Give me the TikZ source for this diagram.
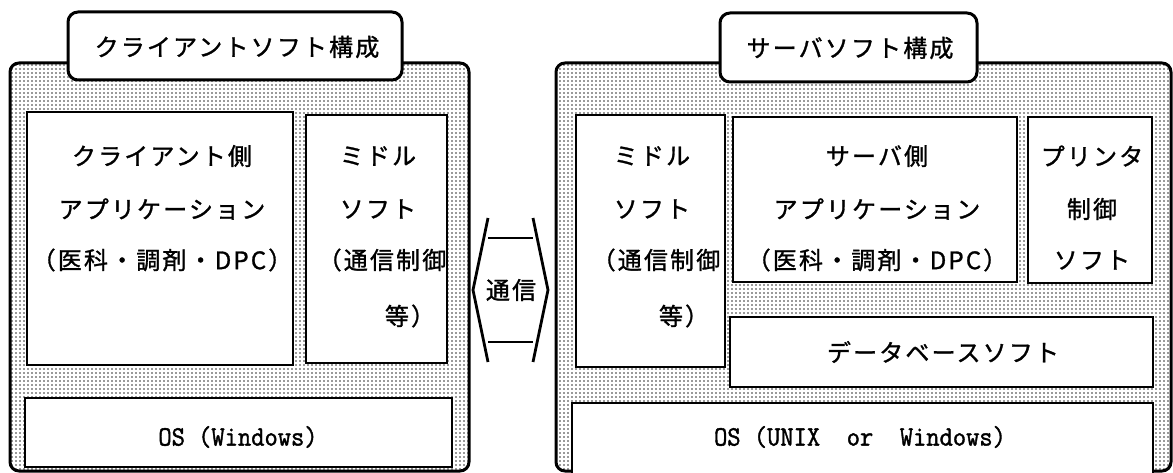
\documentclass[tikz,border=0pt]{standalone}
\usepackage{fontspec}
\newfontfamily\jpfont[LetterSpace=9,FakeBold=1.2]{Noto Sans CJK JP}
\newfontfamily\osfont[FakeBold=1.5]{Latin Modern Mono}
\usetikzlibrary{patterns}
\pgfdeclarepatternformonly{mydots}{\pgfpoint{-1.5pt}{-1.5pt}}{\pgfpoint{1.5pt}{1.5pt}}{\pgfpoint{4pt}{4pt}}{\pgfpathcircle{\pgfpointorigin}{0.95pt}\pgfusepath{fill}}
\begin{document}
\begin{tikzpicture}[x=1pt,y=-1pt,
  panel/.style={draw, line width=3pt, rounded corners=9pt, pattern=mydots, pattern color=black!80, outer sep=0pt, anchor=north west},
  tab/.style={draw, line width=3pt, rounded corners=10pt, fill=white, outer sep=0pt, inner sep=0pt, anchor=north west},
  box/.style={draw, line width=2.6pt, fill=white, outer sep=0pt, inner sep=0pt, anchor=north west},
  jp/.style={font=\fontsize{24}{24}\selectfont\jpfont, inner sep=0pt},
  ostext/.style={font=\fontsize{28}{28}\selectfont\osfont, inner sep=0pt},
  comm/.style={line width=2.8pt, line join=miter}
]
\useasboundingbox (0,0) rectangle (1173,473);
\clip (0,0) rectangle (1173,473);

% ---------- client side ----------
\node[panel, minimum width=459pt, minimum height=408pt] (lpanel) at (10,63) {};
\node[tab, minimum width=334pt, minimum height=68pt] (ltab) at (68,12) {};
\node[jp] (ltitle) at (237,47) {クライアントソフト構成};

\node[box, minimum width=266pt, minimum height=253pt] (lapp) at (27,112) {};
\node[box, minimum width=141pt, minimum height=248pt] (lmid) at (306,115) {};
\node[box, minimum width=427pt, minimum height=69pt] (los) at (25,398) {};

\node[jp] (lapp1) at (162,156) {クライアント側};
\node[jp] (lapp2) at (162,209) {アプリケーション};
\node[jp] (lapp3) at (162,260) {（医科・調剤・DPC）};

\node[jp] (lmid1) at (378,156) {ミドル};
\node[jp] (lmid2) at (378,209) {ソフト};
\node[jp] (lmid3) at (382,260) {（通信制御};
\node[jp] (lmid4) at (410,316) {等）};

\node[ostext] (lostext) at (238,437) {\scalebox{0.92}[1]{OS (Windows)}};

% ---------- communication ----------
\coordinate (c1) at (488,218);
\coordinate (c2) at (473,290);
\coordinate (c3) at (488,362);
\coordinate (c4) at (533,218);
\coordinate (c5) at (548,290);
\coordinate (c6) at (533,362);
\coordinate (b1) at (488,238);
\coordinate (b2) at (533,238);
\coordinate (b3) at (488,342);
\coordinate (b4) at (533,342);
\draw[comm] (c1) -- (c2) -- (c3);
\draw[comm] (c4) -- (c5) -- (c6);
\draw[comm] (b1) -- (b2);
\draw[comm] (b3) -- (b4);
\node[jp] (comm) at (511,290) {通信};

% ---------- server side ----------
\node[panel, minimum width=615pt, minimum height=408pt] (rpanel) at (556,63) {};
\node[tab, minimum width=257pt, minimum height=69pt] (rtab) at (720,13) {};
\node[jp] (rtitle) at (850,48) {サーバソフト構成};

\node[box, minimum width=149pt, minimum height=252pt] (rmid) at (576,115) {};
\node[box, minimum width=284pt, minimum height=165pt] (rapp) at (733,117) {};
\node[box, minimum width=124pt, minimum height=166pt] (rprn) at (1028,117) {};
\node[box, minimum width=423pt, minimum height=70pt] (rdb) at (730,317) {};
\node[box, minimum width=581pt, minimum height=80pt] (ros) at (572,403) {};

\node[jp] (rmid1) at (652,156) {ミドル};
\node[jp] (rmid2) at (652,209) {ソフト};
\node[jp] (rmid3) at (656,260) {（通信制御};
\node[jp] (rmid4) at (684,316) {等）};

\node[jp] (rapp1) at (877,156) {サーバ側};
\node[jp] (rapp2) at (877,209) {アプリケーション};
\node[jp] (rapp3) at (877,260) {（医科・調剤・DPC）};

\node[jp] (rprn1) at (1092,156) {プリンタ};
\node[jp] (rprn2) at (1092,209) {制御};
\node[jp] (rprn3) at (1092,260) {ソフト};

\node[jp] (rdbtext) at (943,352) {データベースソフト};

\node[ostext] (rostext) at (860,437) {\scalebox{0.92}[1]{OS (UNIX\ \ or\ \ Windows)}};
\end{tikzpicture}
\end{document}
